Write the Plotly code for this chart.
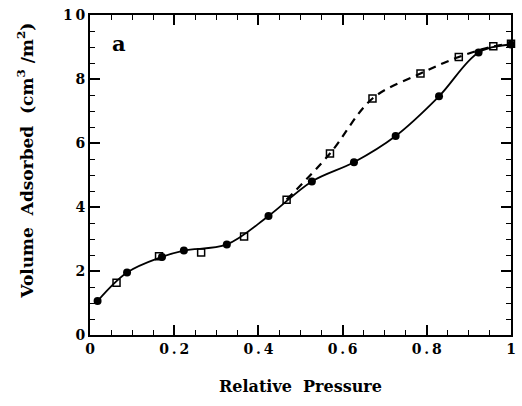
import plotly.graph_objects as go

# Adsorption branch (filled circles, solid line)
ads_p = [0.018, 0.088, 0.171, 0.223, 0.325, 0.424, 0.527, 0.627, 0.726, 0.829, 0.923, 1.0]
ads_v = [1.06, 1.95, 2.44, 2.64, 2.83, 3.72, 4.80, 5.40, 6.22, 7.46, 8.83, 9.08]

# Desorption branch (open squares, dashed line)
des_p = [0.063, 0.164, 0.264, 0.366, 0.467, 0.570, 0.671, 0.785, 0.876, 0.958, 1.0]
des_v = [1.63, 2.46, 2.58, 3.08, 4.23, 5.67, 7.39, 8.17, 8.69, 9.02, 9.10]
dash_start = 4  # dashed curve visible from this desorption point onward

x_tickvals = [0, 0.2, 0.4, 0.6, 0.8, 1]
x_ticktext = ["0", "0\u2009.\u20092", "0\u2009.\u20094", "0\u2009.\u20096", "0\u2009.\u20098", "1"]
y_tickvals = [0, 2, 4, 6, 8, 10]
y_ticktext = ["0", "2", "4", "6", "8", "1\u20090"]

FONT = "DejaVu Serif"

fig = go.Figure()

fig.add_trace(go.Scatter(
    x=des_p[dash_start:], y=des_v[dash_start:], mode="lines",
    line=dict(color="black", width=2.2, dash="8px,6px", shape="spline", smoothing=1.0),
    cliponaxis=False, showlegend=False, hoverinfo="skip"))

fig.add_trace(go.Scatter(
    x=ads_p, y=ads_v, mode="lines",
    line=dict(color="black", width=1.8, shape="spline", smoothing=1.0),
    cliponaxis=False, showlegend=False, hoverinfo="skip"))

fig.add_trace(go.Scatter(
    x=des_p, y=des_v, mode="markers",
    marker=dict(symbol="square-open", size=7, color="black", line=dict(width=1.5)),
    cliponaxis=False, showlegend=False))

fig.add_trace(go.Scatter(
    x=ads_p, y=ads_v, mode="markers",
    marker=dict(symbol="circle", size=8, color="black"),
    cliponaxis=False, showlegend=False))

fig.add_annotation(x=0.068, y=9.1, text="<b>a</b>", showarrow=False,
                   font=dict(family=FONT, size=21, color="black"))

# y-axis title (placed as annotation to match reference offset)
fig.add_annotation(xref="paper", yref="paper", x=-0.185, y=0.545,
                   text="<b>Volume  Adsorbed  (cm<sup>3</sup> /m<sup>2</sup>)</b>",
                   textangle=-90, showarrow=False,
                   font=dict(family=FONT, size=17, color="black"))

axis_common = dict(
    showgrid=False, zeroline=False, showline=True, linecolor="black", linewidth=2,
    mirror="allticks", ticks="inside", ticklen=10, tickwidth=1.5, tickcolor="black",
    tickfont=dict(family=FONT, size=14, color="black", weight="bold"),
)

fig.update_xaxes(
    range=[0, 1], tickvals=x_tickvals, ticktext=x_ticktext,
    minor=dict(dtick=0.05, ticks="inside", ticklen=5, tickwidth=1.2, tickcolor="black"),
    title=dict(text="<b>Relative  Pressure</b>", font=dict(family=FONT, size=16, color="black"), standoff=25),
    **axis_common)

fig.update_yaxes(
    range=[0, 10], tickvals=y_tickvals, ticktext=y_ticktext,
    minor=dict(dtick=0.5, ticks="inside", ticklen=5, tickwidth=1.2, tickcolor="black"),
    **axis_common)

fig.update_layout(
    width=522, height=406,
    margin=dict(l=90, r=6, t=15, b=71),
    paper_bgcolor="white", plot_bgcolor="white",
)

fig.write_html("out.html")
